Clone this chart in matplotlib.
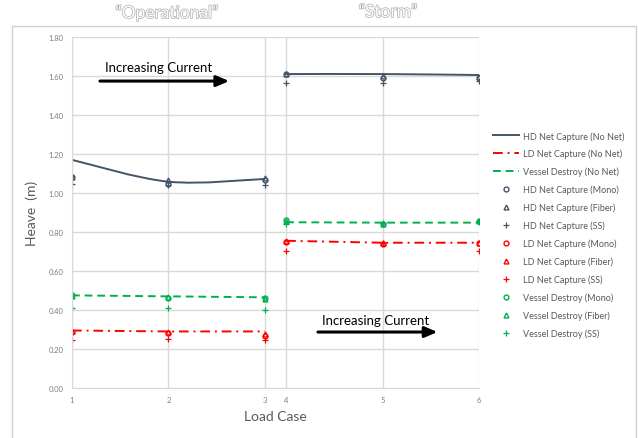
import numpy as np
import matplotlib.pyplot as plt
import matplotlib.patheffects as pe
from matplotlib.path import Path
from matplotlib.patches import PathPatch, Rectangle
from matplotlib.lines import Line2D

plt.rcParams['font.family'] = ['Lato', 'DejaVu Sans']

# load case positions (storm cases sit right after case 3)
x_oper = [1.0, 2.0, 3.0]
x_storm = [3.22, 4.22, 5.22]
tick_pos = x_oper + x_storm
tick_lbl = ['1', '2', '3', '4', '5', '6']

# HD Net Capture
hd_nonet_oper = [1.17, 1.058, 1.072]
hd_nonet_storm = [1.61, 1.61, 1.605]
hd_mono = [1.08, 1.045, 1.068, 1.608, 1.592, 1.59]
hd_fiber = [1.082, 1.068, 1.075, 1.61, 1.598, 1.595]
hd_ss = [1.048, 1.04, 1.04, 1.565, 1.565, 1.575]

# LD Net Capture
ld_nonet = [0.295, 0.29, 0.29, 0.755, 0.745, 0.745]
ld_mono = [0.285, 0.28, 0.265, 0.75, 0.74, 0.742]
ld_fiber = [0.29, 0.285, 0.275, 0.755, 0.745, 0.745]
ld_ss = [0.245, 0.25, 0.245, 0.705, 0.745, 0.705]

# Vessel Destroy
vd_nonet = [0.475, 0.47, 0.465, 0.85, 0.848, 0.848]
vd_mono = [0.475, 0.46, 0.46, 0.86, 0.84, 0.855]
vd_fiber = [0.47, 0.465, 0.455, 0.855, 0.84, 0.855]
vd_ss = [0.41, 0.41, 0.40, 0.84, 0.845, 0.85]

c_hd = '#44546A'
c_ld = '#FF0000'
c_vd = '#00B050'
c_txt = '#595959'


def smooth_path(xs, ys):
    # cubic bezier through the points, like a spreadsheet "smoothed line"
    pts = np.column_stack([xs, ys])
    n = len(pts)
    verts = [pts[0]]
    codes = [Path.MOVETO]
    for i in range(n - 1):
        p_prev = pts[max(i - 1, 0)]
        p_next = pts[min(i + 2, n - 1)]
        c1 = pts[i] + (pts[i + 1] - p_prev) / 6.0
        c2 = pts[i + 1] - (p_next - pts[i]) / 6.0
        verts += [c1, c2, pts[i + 1]]
        codes += [Path.CURVE4] * 3
    return Path(verts, codes)


fig = plt.figure(figsize=(6.38, 4.39), dpi=100)
fig.patches.append(Rectangle((12 / 638, -0.05), 624 / 638, 1 - 27 / 439 + 0.05,
                             transform=fig.transFigure, fill=False,
                             edgecolor='#D0D0D0', lw=1.0))
ax = fig.add_axes([72 / 638, 1 - 389 / 439, 407 / 638, 351 / 439])

ax.set_xlim(1.0, 5.22)
ax.set_ylim(0, 1.8)
ax.set_yticks(np.arange(0, 1.81, 0.2))
ax.set_yticklabels([f'{v:.2f}' for v in np.arange(0, 1.81, 0.2)])
ax.set_xticks(tick_pos)
ax.set_xticklabels(tick_lbl)
ax.grid(True, color='#D9D9D9', lw=1.0)
ax.set_axisbelow(True)
for s in ['top', 'right']:
    ax.spines[s].set_visible(False)
for s in ['left', 'bottom']:
    ax.spines[s].set_color('#D9D9D9')
ax.tick_params(length=0, labelsize=5.5, labelcolor='#7F7F7F', pad=6)

# "No Net" lines
for xs, ys in [(x_oper, hd_nonet_oper), (x_storm, hd_nonet_storm)]:
    ax.add_patch(PathPatch(smooth_path(xs, ys), fill=False, edgecolor=c_hd, lw=1.4))
ld_o, ld_s = ld_nonet[:3], ld_nonet[3:]
vd_o, vd_s = vd_nonet[:3], vd_nonet[3:]
for xs, ld, vd in [(x_oper, ld_o, vd_o), (x_storm, ld_s, vd_s)]:
    ax.plot(xs, ld, color=c_ld, lw=1.4, dashes=(5, 2.5, 1, 2.5))
    ax.plot(xs, vd, color=c_vd, lw=1.4, dashes=(4, 2.5))

# measured points
series = [(hd_mono, hd_fiber, hd_ss, c_hd), (ld_mono, ld_fiber, ld_ss, c_ld),
          (vd_mono, vd_fiber, vd_ss, c_vd)]
for mono, fiber, ss, c in series:
    ax.plot(tick_pos, mono, 'o', ms=3.5, mfc='none', mec=c, mew=1.0, ls='none')
    ax.plot(tick_pos, fiber, '^', ms=3.5, mfc='none', mec=c, mew=1.0, ls='none')
    ax.plot(tick_pos, ss, '+', ms=4, mec=c, mew=0.9, ls='none')

ax.set_ylabel('Heave  (m)', fontsize=10, color=c_txt, labelpad=8)
ax.set_xlabel('Load Case', fontsize=10, color=c_txt, labelpad=5)

# current direction arrows
arrow_kw = dict(arrowstyle='-|>,head_length=0.75,head_width=0.32', color='black',
                lw=2.2, mutation_scale=10, shrinkA=0, shrinkB=0)
ax.annotate('', xy=(2.63, 1.574), xytext=(1.29, 1.574), arrowprops=arrow_kw)
ax.text(1.9, 1.645, 'Increasing Current', fontsize=9.5, ha='center', va='center', color='black')
ax.annotate('', xy=(4.79, 0.287), xytext=(3.55, 0.287), arrowprops=arrow_kw)
ax.text(4.15, 0.35, 'Increasing Current', fontsize=9.5, ha='center', va='center', color='black')

# regime titles with hollow lettering
outline = [pe.withStroke(linewidth=1.0, foreground='#ADADAD')]
fig.text(167 / 638, 1 - 14 / 439, '\u201cOperational\u201d', fontsize=12.5, color='white',
         ha='center', va='center', path_effects=outline)
fig.text(388 / 638, 1 - 13 / 439, '\u201cStorm\u201d', fontsize=12.5, color='white',
         ha='center', va='center', path_effects=outline)

# legend
handles = [
    Line2D([], [], color=c_hd, lw=1.4),
    Line2D([], [], color=c_ld, lw=1.4, dashes=(5, 2.5, 1, 2.5)),
    Line2D([], [], color=c_vd, lw=1.4, dashes=(4, 2.5)),
]
labels = ['HD Net Capture (No Net)', 'LD Net Capture (No Net)', 'Vessel Destroy (No Net)']
names = [('HD Net Capture', c_hd), ('LD Net Capture', c_ld), ('Vessel Destroy', c_vd)]
for name, c in names:
    handles += [Line2D([], [], marker='o', ms=3.5, mfc='none', mec=c, mew=1.0, ls='none'),
                Line2D([], [], marker='^', ms=3.5, mfc='none', mec=c, mew=1.0, ls='none'),
                Line2D([], [], marker='+', ms=4, mec=c, mew=0.9, ls='none')]
    labels += [f'{name} (Mono)', f'{name} (Fiber)', f'{name} (SS)']
leg = fig.legend(handles, labels, loc='upper left', bbox_to_anchor=(493 / 638, 1 - 132 / 439),
                 frameon=False, fontsize=6.5, labelspacing=0.93, handlelength=2.9,
                 handletextpad=0.4, borderpad=0, borderaxespad=0)
for t in leg.get_texts():
    t.set_color(c_txt)

fig.savefig('out.png', dpi=100)
